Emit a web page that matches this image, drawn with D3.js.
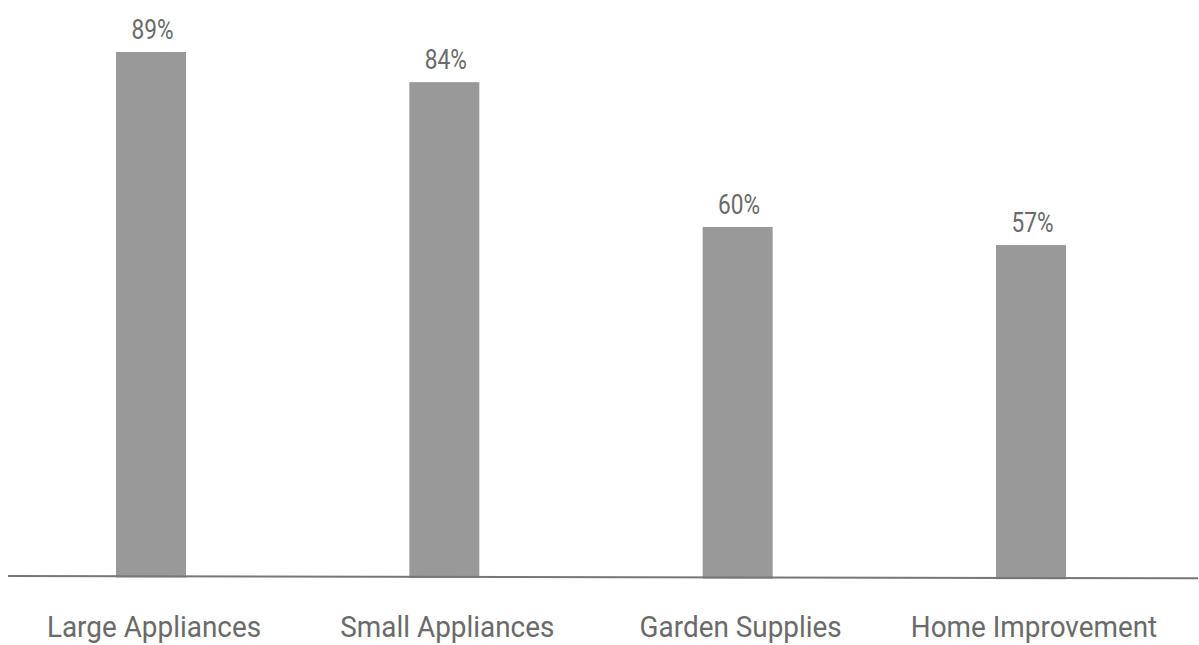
<!DOCTYPE html>
<html>
<head>
<meta charset="utf-8">
<script src="https://cdn.jsdelivr.net/npm/d3@7/dist/d3.min.js"></script>
<style>
  html, body { margin: 0; padding: 0; background: #fff; }
  svg { display: block; }
</style>
</head>
<body>
<svg id="chart" width="1199" height="645"></svg>
<script>
const categories = ["Large Appliances", "Small Appliances", "Garden Supplies", "Home Improvement"];
const values = [89, 84, 60, 57];
const valueLabels = ["89%", "84%", "60%", "57%"];

const W = 1199, H = 645;
const svg = d3.select("#chart");

const x = d3.scaleBand()
  .domain(categories)
  .range([116, 1066])
  .paddingInner(0.7614)
  .paddingOuter(0);

const y = d3.scaleLinear().domain([0, 89]).range([589, 52]);

// slightly slanted baseline
const baseY = d3.scaleLinear().domain([8, 1198]).range([576, 578.3]);

const bw = x.bandwidth();

svg.append("g").selectAll("rect")
  .data(categories)
  .join("rect")
  .attr("x", d => x(d))
  .attr("y", (d, i) => y(values[i]))
  .attr("width", bw)
  .attr("height", (d, i) => baseY(x(d) + bw / 2) + 1.2 - y(values[i]))
  .attr("fill", "#999999");

svg.append("line")
  .attr("x1", 8).attr("x2", 1198)
  .attr("y1", baseY(8)).attr("y2", baseY(1198))
  .attr("stroke", "#777777")
  .attr("stroke-width", 2);

// value labels
svg.append("g").selectAll("text")
  .data(categories)
  .join("text")
  .attr("transform", (d, i) => {
    const cx = x(d) + bw / 2 + 1.5;
    const by = Math.max(y(values[i]) - 13, 29.5);
    return `translate(${cx},${by}) scale(0.84,1)`;
  })
  .attr("text-anchor", "middle")
  .attr("font-family", "Roboto, sans-serif")
  .attr("font-size", 27)
  .attr("fill", "#6a6a6a")
  .text((d, i) => valueLabels[i]);

// category labels
svg.append("g").selectAll("text")
  .data(categories)
  .join("text")
  .attr("transform", d => `translate(${x(d) + bw / 2 + 3},636.5) scale(0.93,1)`)
  .attr("text-anchor", "middle")
  .attr("font-family", "Roboto, sans-serif")
  .attr("font-size", 30)
  .attr("fill", "#6a6a6a")
  .text(d => d);
</script>
</body>
</html>
